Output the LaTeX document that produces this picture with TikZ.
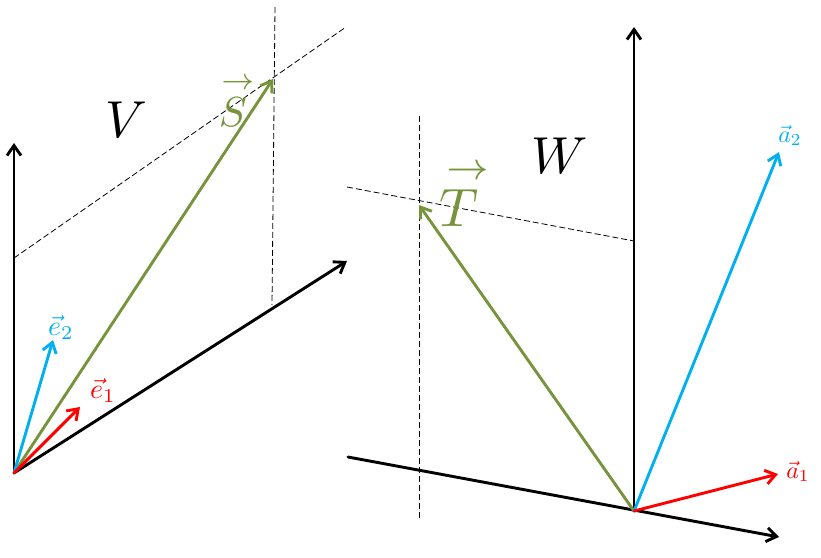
\documentclass[tikz,border=0pt]{standalone}
\usepackage{graphicx}
\usetikzlibrary{arrows.meta}
\definecolor{vgreen}{RGB}{119,147,60}
\definecolor{vblue}{RGB}{0,176,240}
\definecolor{vred}{RGB}{255,0,0}
\begin{document}
\begin{tikzpicture}[x=1pt,y=-1pt,
  vecline/.style={line width=2.9pt,line cap=round,-{Straight Barb[length=10pt,width=14pt]}},
  guide/.style={line width=0.8pt,dash pattern=on 6pt off 3pt},
  lbl/.style={inner sep=0pt,anchor=base}]
\useasboundingbox (0,0) rectangle (821,557);
% left panel
\coordinate (O1) at (14,473);
\coordinate (Y1) at (14,143);
\coordinate (X1) at (347,261);
\coordinate (E1) at (80,407);
\coordinate (E2) at (53,340);
\coordinate (S) at (273,79);
\coordinate (D1a) at (14,258);
\coordinate (D1b) at (346,27);
\coordinate (D2a) at (275,7);
\coordinate (D2b) at (272,305);
\draw[guide] (D1a) -- (D1b);
\draw[guide] (D2a) -- (D2b);
\draw[vecline] (O1) -- (Y1);
\draw[vecline] (O1) -- (X1);
\draw[vecline,vgreen] (O1) -- (S);
\draw[vecline,vblue] (O1) -- (E2);
\draw[vecline,vred] (O1) -- (E1);
\node[lbl] (lV) at (126,137) {\scalebox{5.2}{$V$}};
\node[lbl,text=vgreen] (lS) at (233,123) {\scalebox{4.2}{$\stackrel{\mkern4mu\rightarrow}{S}$}};
\node[lbl,text=vblue] (le2) at (61,335) {\scalebox{2.8}{$\vec{e}_2$}};
\node[lbl,text=vred] (le1) at (103,398) {\scalebox{2.8}{$\vec{e}_1$}};
% right panel
\coordinate (O2) at (634,511);
\coordinate (Y2) at (634,27);
\coordinate (X2s) at (348,457);
\coordinate (X2) at (779,537);
\coordinate (A1) at (778,474);
\coordinate (A2) at (779,152);
\coordinate (T) at (419,205);
\coordinate (D3a) at (347,187);
\coordinate (D3b) at (634,241);
\coordinate (D4a) at (419,116);
\coordinate (D4b) at (419,520);
\draw[guide] (D3a) -- (D3b);
\draw[guide] (D4a) -- (D4b);
\draw[vecline] (O2) -- (Y2);
\draw[vecline] (X2s) -- (X2);
\draw[vecline,vgreen] (O2) -- (T);
\draw[vecline,vblue] (O2) -- (A2);
\draw[vecline,vred] (O2) -- (A1);
\node[lbl] (lW) at (560,173) {\scalebox{5.2}{$W$}};
\node[lbl,text=vgreen] (lT) at (459,222) {\scalebox{5.4}{$\stackrel{\mkern4mu\rightarrow}{T}$}};
\node[lbl,text=vblue] (la2) at (790,142) {\scalebox{2.4}{$\vec{a}_2$}};
\node[lbl,text=vred] (la1) at (798,478) {\scalebox{2.4}{$\vec{a}_1$}};
\end{tikzpicture}
\end{document}
